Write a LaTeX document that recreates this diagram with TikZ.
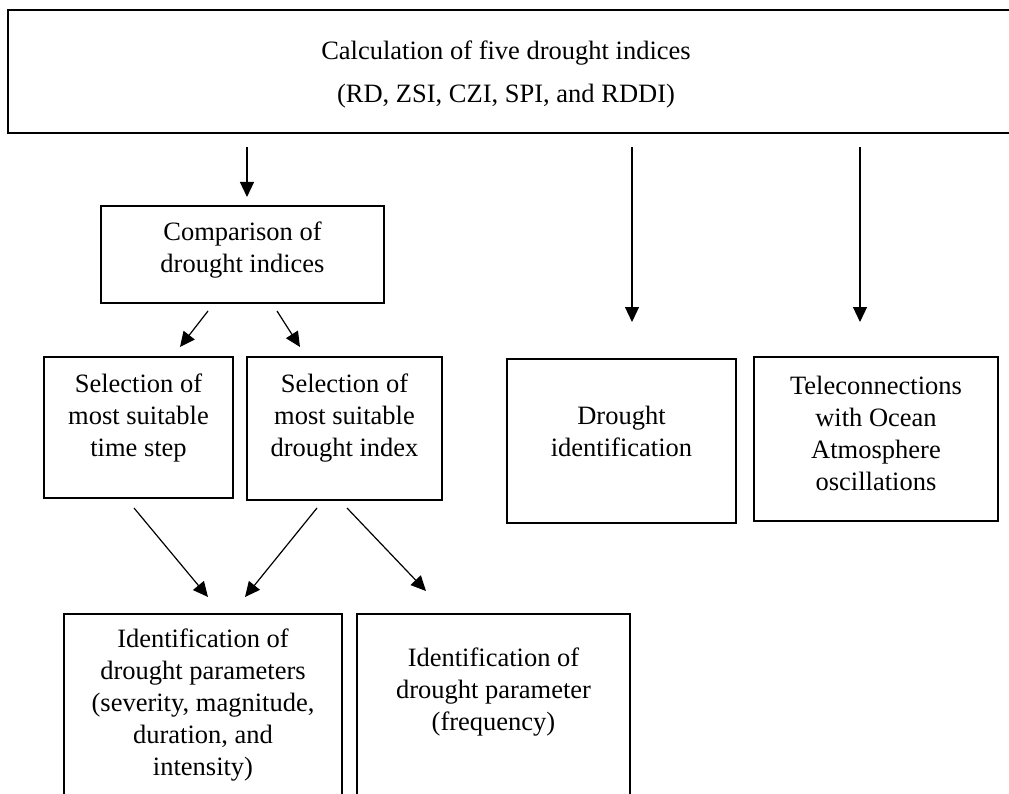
\documentclass[tikz,border=0pt]{standalone}
\usepackage{fontspec}
\setmainfont{Liberation Serif}
\usetikzlibrary{arrows.meta}
\tikzset{
    box/.style={line width=2.5pt},
    txt/.style={align=center, inner sep=0pt, font=\fontsize{26.5}{32}\selectfont},
    arr/.style={line width=1.2pt, -{Triangle[length=15pt, width=14pt]}},
}
\begin{document}
\begin{tikzpicture}[x=1pt, y=-1pt]
        \useasboundingbox (0, 0) rectangle (1009, 794);
        \clip (0, 0) rectangle (1009, 794);

        % top box (runs off the right edge)
        \draw[box] (8, 10) rectangle (1030, 133);
        \node[txt] (calc) at (506, 53) {Calculation of five drought indices};
        \node[txt] (calclist) at (506, 96) {(RD, ZSI, CZI, SPI, and RDDI)};

        % left branch
        \draw[box] (101, 206) rectangle (384, 303);
        \node[txt] (comp) at (242.5, 250) {Comparison of\\drought indices};
        \draw[box] (44, 357) rectangle (233, 498);
        \node[txt] (selstep) at (138.5, 418) {Selection of\\most suitable\\time step};
        \draw[box] (247, 357) rectangle (442, 500);
        \node[txt] (selindex) at (344.5, 418) {Selection of\\most suitable\\drought index};

        % right branch
        \draw[box] (507, 359) rectangle (736, 523);
        \node[txt] (ident) at (621.5, 431) {Drought\\identification};
        \draw[box] (754, 357) rectangle (998, 521);
        \node[txt] (tele) at (876, 433) {Teleconnections\\with Ocean\\Atmosphere\\oscillations};

        % bottom boxes, cut by the page edge
        \draw[box] (64, 614) rectangle (342, 850);
        \node[txt] (param) at (203, 705) {Identification of\\drought parameters\\(severity, magnitude,\\duration, and\\intensity)};
        \draw[box] (357, 614) rectangle (630, 850);
        \node[txt] (freq) at (493.5, 692) {Identification of\\drought parameter\\(frequency)};

        % arrow ends
        \coordinate (calc-a) at (247, 147);
        \coordinate (calc-b) at (632, 147);
        \coordinate (calc-c) at (860, 147);
        \coordinate (comp-in) at (247, 197);
        \coordinate (ident-in) at (632, 322);
        \coordinate (tele-in) at (860, 322);
        \coordinate (comp-l) at (208, 311);
        \coordinate (comp-r) at (277, 311);
        \coordinate (selstep-in) at (180, 347);
        \coordinate (selindex-in) at (300, 347);
        \coordinate (selstep-out) at (134, 508);
        \coordinate (selindex-l) at (317, 508);
        \coordinate (selindex-r) at (347, 508);
        \coordinate (param-a) at (208, 597);
        \coordinate (param-b) at (245, 597);
        \coordinate (freq-in) at (426, 591);

        \draw[arr] (calc-a) -- (comp-in);
        \draw[arr] (calc-b) -- (ident-in);
        \draw[arr] (calc-c) -- (tele-in);
        \draw[arr] (comp-l) -- (selstep-in);
        \draw[arr] (comp-r) -- (selindex-in);
        \draw[arr] (selstep-out) -- (param-a);
        \draw[arr] (selindex-l) -- (param-b);
        \draw[arr] (selindex-r) -- (freq-in);
    \end{tikzpicture}
\end{document}
